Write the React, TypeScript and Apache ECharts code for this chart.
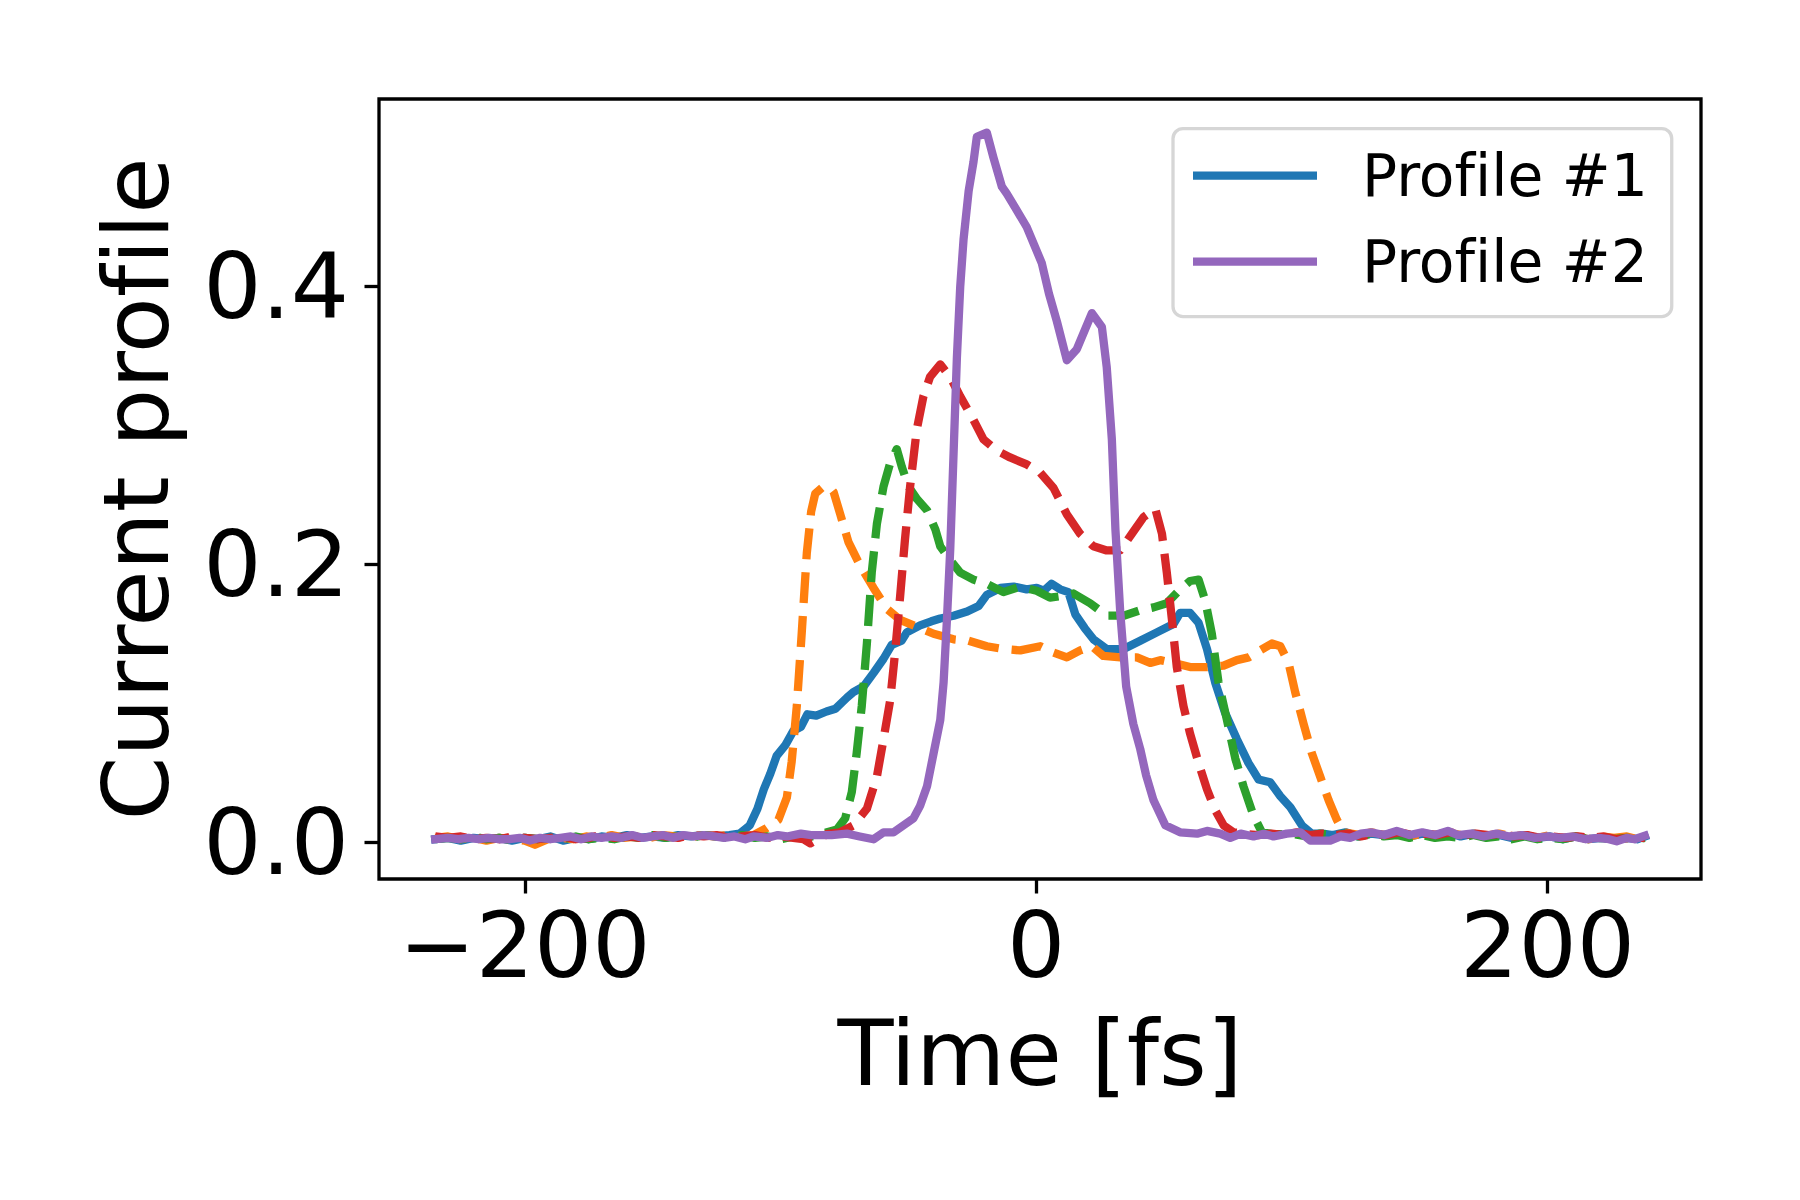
import React, { useEffect, useRef } from "react";
import * as echarts from "echarts";

type Pt = [number, number];

// Profile #1 (blue, solid)
const profile1: Pt[] = [
  [-235, 0.002], [-230, 0.003], [-225, 0.001], [-220, 0.003], [-215, 0.002], [-210, 0.003], [-205, 0.001], [-200, 0.003],
  [-195, 0.002], [-190, 0.004], [-185, 0.001], [-180, 0.003], [-175, 0.002], [-170, 0.004], [-165, 0.003], [-160, 0.005],
  [-155, 0.003], [-150, 0.004], [-145, 0.003], [-140, 0.005], [-135, 0.004], [-130, 0.005], [-125, 0.004], [-120, 0.005],
  [-116, 0.006], [-112, 0.012], [-109, 0.024], [-106.5, 0.038], [-104, 0.049], [-101.5, 0.062], [-98, 0.07], [-95, 0.08],
  [-92, 0.083], [-89.5, 0.092], [-86, 0.091], [-82, 0.094], [-78.5, 0.096], [-74, 0.104], [-71.5, 0.108], [-67.5, 0.112],
  [-63.5, 0.122], [-59.7, 0.132], [-56.5, 0.142], [-52.6, 0.145], [-50.6, 0.151], [-45.4, 0.156], [-41, 0.159], [-37.5, 0.161],
  [-32.3, 0.163], [-27, 0.166], [-22.5, 0.17], [-19.3, 0.178], [-14, 0.183], [-8.8, 0.184], [-3.7, 0.182], [0.2, 0.183],
  [3, 0.181], [6, 0.186], [9.4, 0.182], [12.6, 0.18], [15.3, 0.164], [19, 0.154], [22.4, 0.146], [27.6, 0.139],
  [34.2, 0.139], [40.7, 0.145], [47.2, 0.151], [53.7, 0.157], [56.3, 0.165], [60.2, 0.165], [63.5, 0.158], [66.8, 0.139],
  [70, 0.115], [73.9, 0.093], [78.5, 0.074], [83, 0.057], [87, 0.045], [91.5, 0.043], [95.5, 0.033], [99.4, 0.025],
  [103.9, 0.012], [107.8, 0.006], [112, 0.006], [116, 0.005], [121, 0.007], [126, 0.004], [131, 0.006], [136, 0.005],
  [141, 0.007], [146, 0.004], [151, 0.006], [156, 0.005], [161, 0.007], [166, 0.004], [171, 0.006], [176, 0.004],
  [181, 0.005], [186, 0.003], [191, 0.005], [196, 0.003], [201, 0.004], [206, 0.002], [211, 0.004], [216, 0.002],
  [221, 0.003], [226, 0.002], [231, 0.003], [235, 0.002], [238, 0.004],
];

// Profile #2 (purple, solid)
const profile2: Pt[] = [
  [-235, 0.002], [-230, 0.003], [-226, 0.002], [-222, 0.003], [-218, 0.002], [-214, 0.003], [-210, 0.002], [-206, 0.002],
  [-202, 0.003], [-198, 0.001], [-194, 0.003], [-190, 0.002], [-186, 0.003], [-182, 0.004], [-178, 0.002], [-174, 0.004],
  [-170, 0.003], [-166, 0.004], [-162, 0.003], [-158, 0.005], [-154, 0.003], [-150, 0.004], [-146, 0.005], [-142, 0.003],
  [-138, 0.005], [-134, 0.004], [-130, 0.005], [-126, 0.004], [-122, 0.003], [-118, 0.004], [-113.8, 0.002], [-110.6, 0.004],
  [-105, 0.003], [-101, 0.005], [-97.5, 0.004], [-92, 0.006], [-88, 0.005], [-84.5, 0.005], [-80, 0.005], [-74, 0.006],
  [-69, 0.004], [-63.6, 0.002], [-59.7, 0.007], [-55.8, 0.007], [-51.9, 0.012], [-48, 0.017], [-45.4, 0.026], [-42.7, 0.04],
  [-40.1, 0.064], [-37.5, 0.088], [-36.2, 0.115], [-34.9, 0.16], [-33.6, 0.211], [-32.3, 0.28], [-31, 0.349], [-29.7, 0.4],
  [-28.4, 0.434], [-26.4, 0.469], [-24.5, 0.49], [-23.2, 0.508], [-19.3, 0.511], [-16.7, 0.493], [-13.4, 0.472], [-11.5, 0.467],
  [-8.2, 0.457], [-3.7, 0.443], [2.2, 0.417], [5, 0.395], [8.1, 0.375], [12, 0.347], [15.9, 0.355], [21.8, 0.381],
  [25.7, 0.371], [27.6, 0.342], [29.6, 0.29], [31, 0.225], [32.9, 0.165], [35.2, 0.112], [38, 0.085], [40.7, 0.067],
  [43, 0.048], [45.9, 0.03], [50.5, 0.012], [56.3, 0.007], [62.9, 0.006], [66.8, 0.008], [72, 0.006], [75.9, 0.003],
  [80, 0.006], [85, 0.004], [89, 0.006], [92.8, 0.004], [98, 0.006], [103.3, 0.007], [107.2, 0.001], [115, 0.001],
  [119, 0.004], [122.8, 0.003], [127, 0.006], [131, 0.007], [136, 0.005], [141, 0.008], [146, 0.005], [151, 0.007],
  [156, 0.005], [161, 0.008], [165, 0.005], [170, 0.006], [175, 0.004], [180, 0.006], [185, 0.004], [190, 0.005],
  [195, 0.003], [200, 0.004], [205, 0.003], [210, 0.004], [215, 0.002], [220, 0.003], [224, 0.002], [227, 0.0005],
  [231, 0.003], [234, 0.002], [238, 0.0045],
];

// Dashed orange profile
const profile3: Pt[] = [
  [-235, 0.003], [-230, 0.004], [-225, 0.002], [-220, 0.003], [-215, 0.001], [-210, 0.003], [-205, 0.002], [-200, 0.001],
  [-196, -0.002], [-191, 0.002], [-186, 0.003], [-181, 0.002], [-176, 0.004], [-171, 0.003], [-166, 0.005], [-161, 0.003],
  [-156, 0.004], [-151, 0.003], [-146, 0.005], [-141, 0.004], [-136, 0.003], [-131, 0.005], [-126, 0.004], [-121, 0.005],
  [-116, 0.004], [-110.6, 0.005], [-105.4, 0.01], [-100.8, 0.016], [-97.5, 0.032], [-95.6, 0.058], [-93.6, 0.098], [-91.7, 0.15],
  [-89.7, 0.208], [-88, 0.238], [-86.4, 0.251], [-83.2, 0.256], [-80.5, 0.255], [-79.2, 0.252], [-76.6, 0.236], [-73.4, 0.216],
  [-68.8, 0.199], [-63.6, 0.183], [-58.4, 0.168], [-53.2, 0.16], [-46.6, 0.155], [-40.1, 0.15], [-32.3, 0.146], [-26.5, 0.145],
  [-19.3, 0.141], [-12.8, 0.139], [-6.2, 0.138], [1.6, 0.141], [6, 0.137], [12, 0.133], [17.2, 0.138], [21.8, 0.141],
  [26.3, 0.134], [32.9, 0.133], [39.4, 0.133], [44.6, 0.129], [48.5, 0.131], [53.7, 0.129], [60.2, 0.126], [66.8, 0.126],
  [73.3, 0.127], [78.5, 0.131], [83.1, 0.133], [87.6, 0.138], [92.2, 0.143], [95.5, 0.141], [98.7, 0.129], [101.3, 0.108],
  [104.6, 0.085], [107.8, 0.064], [111.1, 0.047], [114.4, 0.03], [117.6, 0.016], [120.2, 0.007], [126.8, 0.005], [131, 0.007],
  [136, 0.005], [141, 0.006], [146, 0.004], [151, 0.006], [156, 0.005], [161, 0.007], [166, 0.005], [171, 0.006],
  [176, 0.004], [181, 0.006], [186, 0.004], [191, 0.005], [196, 0.003], [201, 0.005], [206, 0.003], [211, 0.004],
  [216, 0.002], [221, 0.004], [226, 0.003], [231, 0.004], [235, 0.002], [238, 0.003],
];

// Dashed green profile
const profile4: Pt[] = [
  [-235, 0.002], [-230, 0.003], [-225, 0.002], [-220, 0.004], [-215, 0.002], [-210, 0.003], [-205, 0.001], [-200, 0.003],
  [-195, 0.002], [-190, 0.003], [-185, 0.002], [-180, 0.004], [-175, 0.002], [-170, 0.003], [-165, 0.002], [-160, 0.004],
  [-155, 0.003], [-150, 0.005], [-145, 0.003], [-140, 0.004], [-135, 0.003], [-130, 0.005], [-125, 0.004], [-120, 0.003],
  [-115, 0.005], [-110, 0.003], [-105, 0.004], [-100, 0.002], [-95, 0.004], [-90, 0.003], [-84.5, 0.0055], [-77.9, 0.009],
  [-74.7, 0.017], [-72.1, 0.036], [-70.2, 0.064], [-68.2, 0.098], [-66.2, 0.143], [-64.3, 0.194], [-62.3, 0.229], [-59.7, 0.256],
  [-57.1, 0.273], [-54.5, 0.283], [-52.5, 0.27], [-49.9, 0.256], [-46.6, 0.247], [-42.7, 0.239], [-39.4, 0.225], [-37.5, 0.213],
  [-33.6, 0.203], [-29.7, 0.194], [-24.5, 0.189], [-19.3, 0.186], [-12.8, 0.18], [-6.2, 0.184], [0.2, 0.181], [5.4, 0.176],
  [9.4, 0.177], [14.6, 0.179], [21.1, 0.172], [27.6, 0.163], [34.2, 0.163], [40.7, 0.167], [45.9, 0.169], [51.1, 0.172],
  [56.3, 0.182], [60.2, 0.188], [63.5, 0.189], [66.1, 0.174], [68.7, 0.15], [71.3, 0.115], [74.6, 0.088], [77.9, 0.06],
  [81.1, 0.04], [85, 0.019], [88.3, 0.007], [92.8, 0.0056], [100.7, 0.0056], [106, 0.004], [111, 0.006], [116, 0.005],
  [121, 0.006], [126, 0.004], [131, 0.006], [136, 0.004], [141, 0.005], [146, 0.003], [151, 0.005], [156, 0.003],
  [161, 0.004], [166, 0.003], [171, 0.005], [176, 0.003], [181, 0.004], [186, 0.002], [191, 0.004], [196, 0.002],
  [201, 0.003], [206, 0.002], [211, 0.004], [216, 0.002], [221, 0.003], [226, 0.002], [231, 0.003], [235, 0.002], [238, 0.003],
];

// Dashed red profile
const profile5: Pt[] = [
  [-235, 0.004], [-230, 0.003], [-225, 0.004], [-220, 0.002], [-215, 0.003], [-210, 0.002], [-205, 0.004], [-200, 0.003],
  [-195, 0.002], [-190, 0.003], [-185, 0.004], [-180, 0.002], [-175, 0.003], [-170, 0.005], [-165, 0.003], [-160, 0.004],
  [-155, 0.003], [-150, 0.005], [-145, 0.004], [-140, 0.003], [-135, 0.005], [-130, 0.004], [-125, 0.005], [-120, 0.003],
  [-115, 0.004], [-110, 0.005], [-105, 0.003], [-100, 0.004], [-95, 0.003], [-91, 0.002], [-88.3, -0.001], [-84.5, 0.003],
  [-81.9, 0.0056], [-76.6, 0.007], [-71.4, 0.012], [-66.2, 0.024], [-62.3, 0.047], [-59.7, 0.074], [-57.1, 0.102], [-55.2, 0.136],
  [-53.2, 0.177], [-51.3, 0.218], [-49.3, 0.256], [-46.7, 0.297], [-44.1, 0.321], [-41.5, 0.335], [-37.5, 0.344], [-33.6, 0.335],
  [-29.7, 0.321], [-24.5, 0.304], [-20.6, 0.29], [-15.4, 0.282], [-10.2, 0.277], [-3.7, 0.272], [1.6, 0.266], [6.8, 0.255],
  [12, 0.236], [17.2, 0.222], [22.4, 0.213], [27.6, 0.21], [32.9, 0.21], [37.4, 0.222], [42, 0.234], [46.6, 0.24],
  [49.2, 0.222], [51.1, 0.194], [53.1, 0.16], [55, 0.126], [57.6, 0.098], [60.2, 0.078], [63.5, 0.057], [66.8, 0.038],
  [70, 0.023], [73.3, 0.012], [77.2, 0.007], [82.4, 0.0056], [87, 0.005], [92, 0.006], [97, 0.005], [102, 0.007],
  [107, 0.005], [112, 0.006], [117, 0.005], [122, 0.006], [127, 0.004], [132, 0.006], [137, 0.005], [142, 0.007],
  [147, 0.005], [152, 0.006], [157, 0.005], [162, 0.007], [167, 0.005], [172, 0.006], [177, 0.005], [182, 0.006],
  [187, 0.004], [192, 0.005], [197, 0.003], [202, 0.004], [207, 0.003], [212, 0.004], [217, 0.003], [222, 0.004],
  [227, 0.002], [232, 0.003], [238, 0.003],
];

const legendNames = ["Profile #1", "Profile #2"];
const xTicks = [-200, 0, 200];
const yTicks = [0, 0.2, 0.4];

const FONT = "DejaVu Sans";
const LW = 8.3;

export default function App() {
  const ref = useRef<HTMLDivElement>(null);
  useEffect(() => {
    if (!ref.current) return;
    const chart = echarts.init(ref.current, null, { renderer: "svg" });
    const solid = (name: string, data: Pt[], color: string) => ({
      type: "line",
      name,
      data,
      symbol: "none",
      showSymbol: false,
      lineStyle: { color, width: LW, cap: "square", join: "round" },
      itemStyle: { color },
      emphasis: { disabled: true },
    });
    const dashed = (name: string, data: Pt[], color: string) => ({
      type: "line",
      name,
      data,
      symbol: "none",
      showSymbol: false,
      lineStyle: { color, width: LW, type: [31, 13], cap: "butt", join: "round" },
      itemStyle: { color },
      emphasis: { disabled: true },
    });
    chart.setOption({
      animation: false,
      backgroundColor: "#ffffff",
      textStyle: { fontFamily: FONT },
      grid: {
        left: 379,
        top: 99,
        width: 1322,
        height: 780,
        show: true,
        borderColor: "#000",
        borderWidth: 3.3,
        backgroundColor: "transparent",
      },
      legend: {
        data: legendNames,
        orient: "vertical",
        left: 1173,
        top: 128.6,
        padding: [17, 24, 25, 20],
        itemGap: 26,
        itemWidth: 124,
        itemHeight: 8.3,
        icon: "rect",
        backgroundColor: "rgba(255,255,255,0.8)",
        borderColor: "#d6d6d6",
        borderWidth: 3.3,
        borderRadius: 10,
        selectedMode: false,
        textStyle: {
          fontSize: 58.3,
          color: "#000",
          fontFamily: FONT,
          lineHeight: 60,
          padding: [0, 0, 0, 40],
        },
      },
      xAxis: {
        type: "value",
        min: -257,
        max: 260,
        splitLine: { show: false },
        axisLine: { show: false, onZero: false },
        axisTick: {
          show: true,
          length: 14.5,
          lineStyle: { color: "#000", width: 3.3 },
          customValues: xTicks,
        },
        axisLabel: {
          customValues: xTicks,
          formatter: (v: number) => (v < 0 ? "\u2212" + Math.abs(v) : String(v)),
          fontSize: 91.7,
          lineHeight: 92,
          color: "#000",
          margin: 20,
          fontFamily: FONT,
        },
        name: "Time [fs]",
        nameLocation: "middle",
        nameGap: 128,
        nameTextStyle: { fontSize: 91.7, lineHeight: 92, color: "#000", fontFamily: FONT },
      },
      yAxis: {
        type: "value",
        min: -0.02665,
        max: 0.5352,
        splitLine: { show: false },
        axisLine: { show: false, onZero: false },
        axisTick: {
          show: true,
          length: 14.5,
          lineStyle: { color: "#000", width: 3.3 },
          customValues: yTicks,
        },
        axisLabel: {
          customValues: yTicks,
          formatter: (v: number) => v.toFixed(1),
          fontSize: 91.7,
          lineHeight: 92,
          color: "#000",
          margin: 30,
          fontFamily: FONT,
        },
        name: "Current profile",
        nameLocation: "middle",
        nameRotate: 90,
        nameGap: 197,
        nameTextStyle: { fontSize: 91.7, lineHeight: 92, color: "#000", fontFamily: FONT },
      },
      series: [
        solid("Profile #1", profile1, "#1f77b4"),
        dashed("Profile A", profile3, "#ff7f0e"),
        dashed("Profile B", profile4, "#2ca02c"),
        dashed("Profile C", profile5, "#d62728"),
        solid("Profile #2", profile2, "#9467bd"),
      ],
    });
    return () => chart.dispose();
  }, []);
  return (
    <div
      ref={ref}
      style={{
        position: "absolute",
        left: 0,
        top: 0,
        width: 1800,
        height: 1200,
        background: "#fff",
        fontVariantLigatures: "none",
      }}
    />
  );
}
